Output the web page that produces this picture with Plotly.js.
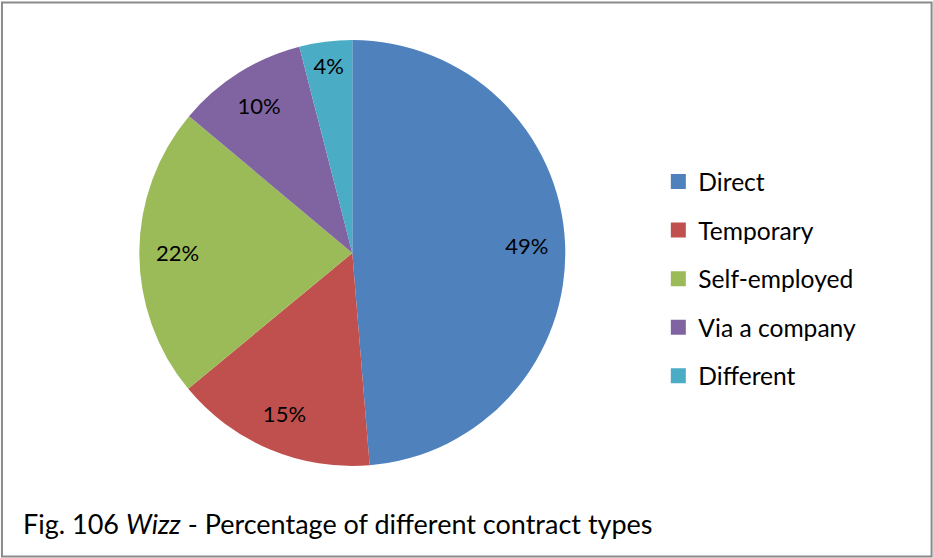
<!DOCTYPE html>
<html>
<head>
<meta charset="utf-8">
<script src="https://cdn.plot.ly/plotly-3.0.1.min.js"></script>
<style>
html,body{margin:0;padding:0;background:#fff;}
#chart{width:933px;height:558px;}
</style>
</head>
<body>
<div id="chart"></div>
<script>
// Data
const categories = ['Direct', 'Temporary', 'Self-employed', 'Via a company', 'Different'];
const shares = [48.7, 15.3, 22.1, 9.9, 4.0];
const colors = ['#4F81BD', '#C0504D', '#9BBB59', '#8064A2', '#4BACC6'];
const captionText = 'Fig. 106 <i>Wizz</i> - Percentage of different contract types';

const FONT = 'Lato, "Open Sans", sans-serif';
const DOMAIN = {x: [0.1493, 0.6059], y: [0.1649, 0.9283]};

// Filled slices
const pie = {
  type: 'pie',
  labels: categories,
  values: shares,
  sort: false,
  direction: 'clockwise',
  rotation: 0,
  marker: {colors: colors, line: {width: 0}},
  textinfo: 'none',
  hoverinfo: 'none',
  showlegend: false,
  domain: DOMAIN
};

// Same slices as a transparent ring, only to place the percentage labels
// in the outer part of each slice (as the original does)
const labelRing = {
  type: 'pie',
  labels: categories,
  values: shares,
  sort: false,
  direction: 'clockwise',
  rotation: 0,
  hole: 0.64,
  marker: {colors: categories.map(() => 'rgba(0,0,0,0)'), line: {width: 0}},
  texttemplate: '%{percent:.0%}',
  textposition: 'inside',
  insidetextorientation: 'horizontal',
  textfont: {family: FONT, size: 22, color: '#000'},
  hoverinfo: 'none',
  showlegend: false,
  domain: DOMAIN
};

// Legend entries built from the same arrays
const legendTraces = categories.map((c, i) => ({
  type: 'scatter',
  mode: 'markers',
  x: [null], y: [null],
  name: c,
  legendgroup: 'g' + i,
  marker: {symbol: 'square', size: 15, color: colors[i]},
  hoverinfo: 'none'
}));

const layout = {
  width: 933, height: 558,
  margin: {l: 0, r: 0, t: 0, b: 0},
  paper_bgcolor: '#fff',
  plot_bgcolor: 'rgba(0,0,0,0)',
  xaxis: {visible: false, fixedrange: true},
  yaxis: {visible: false, fixedrange: true},
  showlegend: true,
  legend: {
    x: 0.7056, xanchor: 'left',
    y: 0.5, yanchor: 'middle',
    traceorder: 'grouped',
    tracegroupgap: 13.6,
    font: {family: FONT, size: 24.6, color: '#000'},
    bgcolor: 'rgba(0,0,0,0)'
  },
  annotations: [{
    xref: 'paper', yref: 'paper',
    x: 0.023, y: 0.062, xanchor: 'left', yanchor: 'middle',
    text: captionText, showarrow: false,
    font: {family: FONT, size: 27, color: '#000'}
  }],
  shapes: [{
    type: 'rect', xref: 'paper', yref: 'paper',
    x0: 0.0021, x1: 0.9985, y0: 0.0027, y1: 0.9955,
    line: {color: '#8A8A8A', width: 2}
  }]
};

Plotly.newPlot('chart', [pie, labelRing].concat(legendTraces), layout, {displayModeBar: false, staticPlot: true});
</script>
</body>
</html>
